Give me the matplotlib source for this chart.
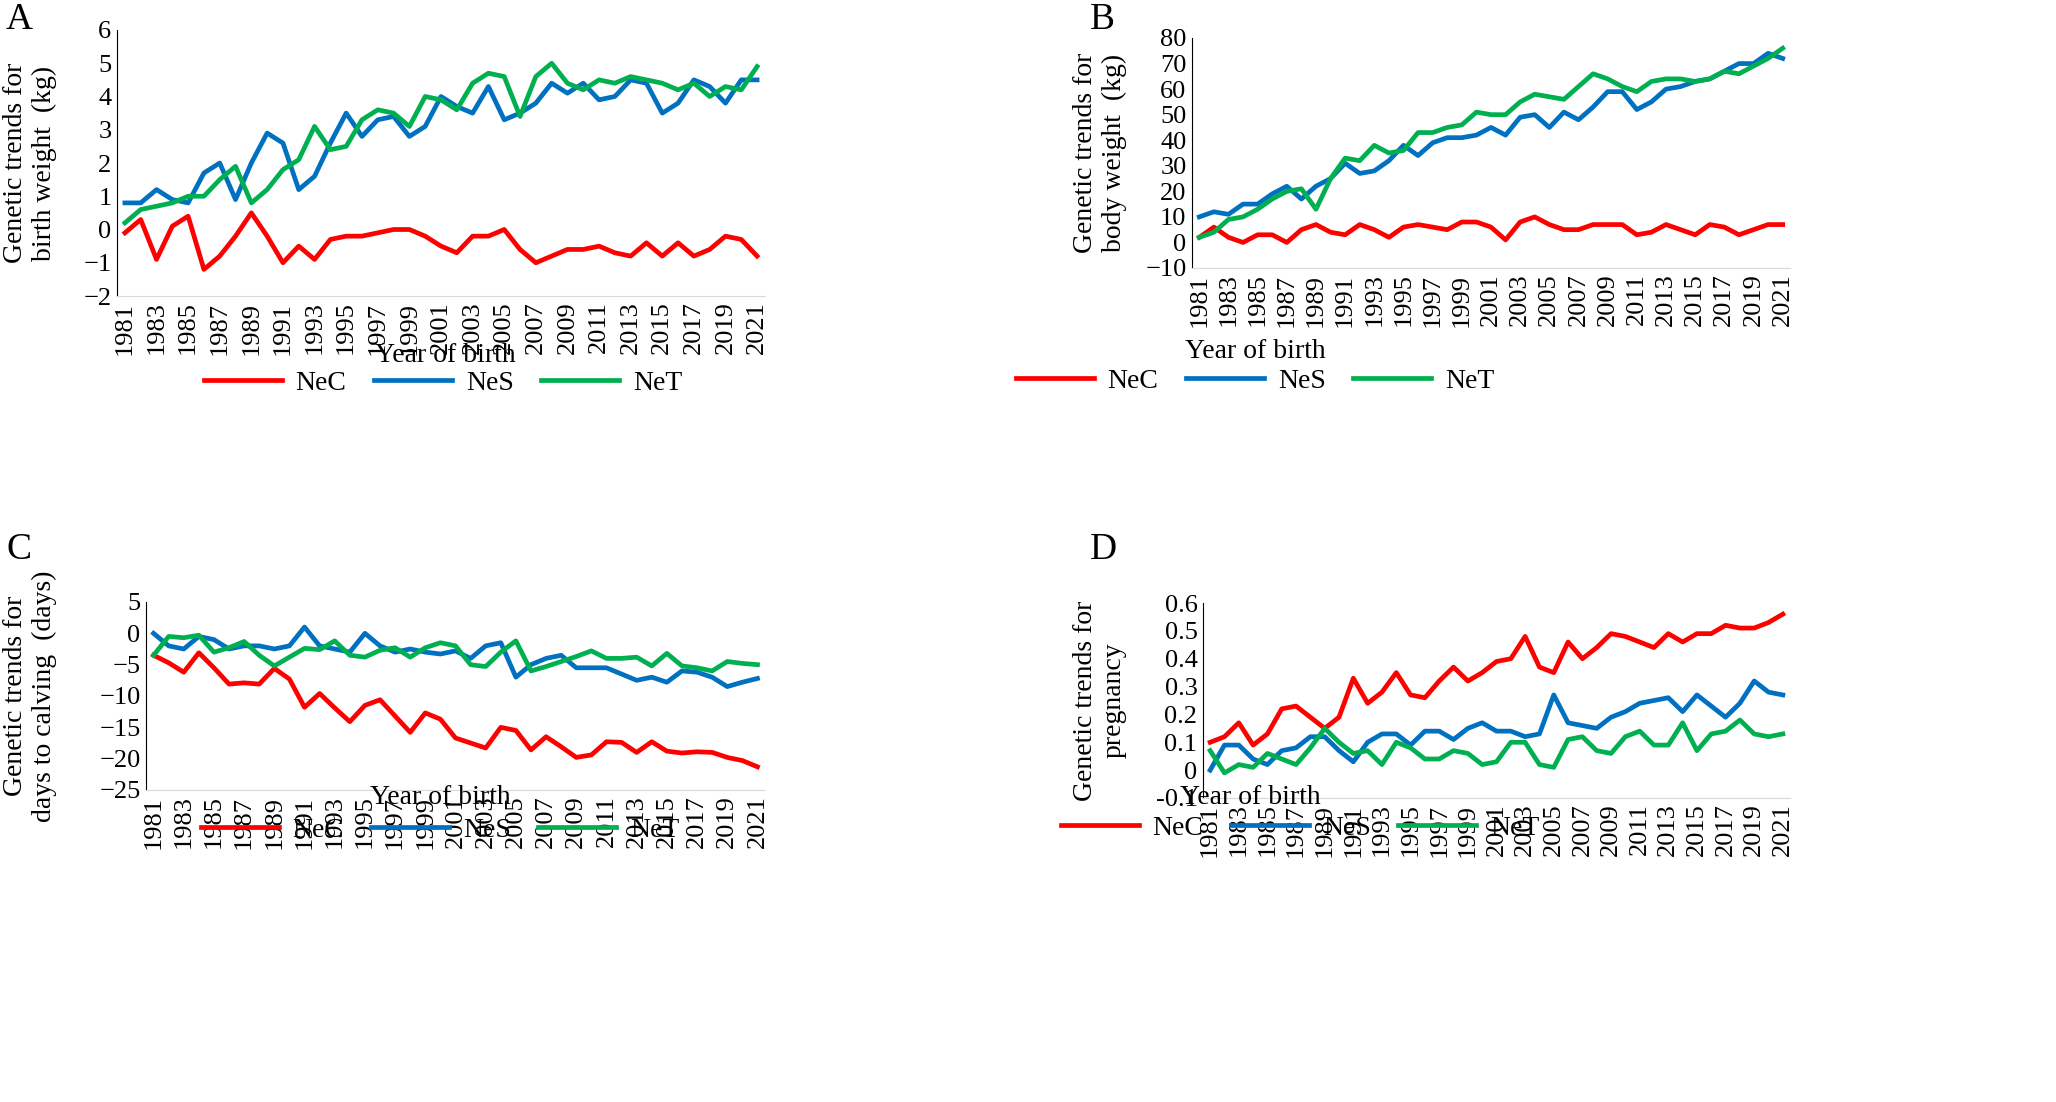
import matplotlib
matplotlib.use("Agg")
import matplotlib.pyplot as plt
from matplotlib.lines import Line2D

plt.rcParams['font.family'] = ['Liberation Serif', 'DejaVu Serif']

years = list(range(1981, 2022))
xticks = list(range(1981, 2022, 2))

A_NeC = [-0.1,0.3,-0.9,0.1,0.4,-1.2,-0.8,-0.2,0.5,-0.2,-1.0,-0.5,-0.9,-0.3,-0.2,-0.2,-0.1,0.0,0.0,-0.2,-0.5,-0.7,-0.2,-0.2,0.0,-0.6,-1.0,-0.8,-0.6,-0.6,-0.5,-0.7,-0.8,-0.4,-0.8,-0.4,-0.8,-0.6,-0.2,-0.3,-0.8]
A_NeS = [0.8,0.8,1.2,0.9,0.8,1.7,2.0,0.9,2.0,2.9,2.6,1.2,1.6,2.6,3.5,2.8,3.3,3.4,2.8,3.1,4.0,3.7,3.5,4.3,3.3,3.5,3.8,4.4,4.1,4.4,3.9,4.0,4.5,4.4,3.5,3.8,4.5,4.3,3.8,4.5,4.5]
A_NeT = [0.2,0.6,0.7,0.8,1.0,1.0,1.5,1.9,0.8,1.2,1.8,2.1,3.1,2.4,2.5,3.3,3.6,3.5,3.1,4.0,3.9,3.6,4.4,4.7,4.6,3.4,4.6,5.0,4.4,4.2,4.5,4.4,4.6,4.5,4.4,4.2,4.4,4.0,4.3,4.2,4.9]

B_NeC = [2,6,2,0,3,3,0,5,7,4,3,7,5,2,6,7,6,5,8,8,6,1,8,10,7,5,5,7,7,7,3,4,7,5,3,7,6,3,5,7,7]
B_NeS = [10,12,11,15,15,19,22,17,22,25,31,27,28,32,38,34,39,41,41,42,45,42,49,50,45,51,48,53,59,59,52,55,60,61,63,64,67,70,70,74,72]
B_NeT = [2,4,9,10,13,17,20,21,13,25,33,32,38,35,36,43,43,45,46,51,50,50,55,58,57,56,61,66,64,61,59,63,64,64,63,64,67,66,69,72,76]

C_NeC = [-3.5,-4.7,-6.2,-3.1,-5.5,-8.1,-7.9,-8.1,-5.6,-7.3,-11.8,-9.6,-11.9,-14.1,-11.5,-10.6,-13.2,-15.8,-12.7,-13.7,-16.7,-17.5,-18.3,-15,-15.5,-18.6,-16.5,-18.1,-19.8,-19.4,-17.3,-17.4,-19,-17.3,-18.8,-19.1,-18.9,-19,-19.8,-20.3,-21.3]
C_NeS = [0,-2,-2.5,-0.5,-1,-2.5,-2,-2,-2.5,-2,1,-2,-2.5,-3,0,-2,-3,-2.5,-3,-3.3,-2.8,-4,-2,-1.5,-7,-5,-4,-3.5,-5.5,-5.5,-5.5,-6.5,-7.5,-7,-7.8,-6,-6.2,-7,-8.5,-7.8,-7.2]
C_NeT = [-3.5,-0.5,-0.7,-0.3,-3,-2.3,-1.3,-3.5,-5.2,-3.8,-2.4,-2.6,-1.2,-3.5,-3.8,-2.7,-2.3,-3.8,-2.3,-1.5,-2,-5,-5.3,-3,-1.2,-6,-5.3,-4.5,-3.7,-2.8,-4,-4,-3.8,-5.2,-3.2,-5.2,-5.5,-6,-4.5,-4.8,-5]

D_NeC = [0.10,0.12,0.17,0.09,0.13,0.22,0.23,0.19,0.15,0.19,0.33,0.24,0.28,0.35,0.27,0.26,0.32,0.37,0.32,0.35,0.39,0.40,0.48,0.37,0.35,0.46,0.40,0.44,0.49,0.48,0.46,0.44,0.49,0.46,0.49,0.49,0.52,0.51,0.51,0.53,0.56]
D_NeS = [0.0,0.09,0.09,0.04,0.02,0.07,0.08,0.12,0.12,0.07,0.03,0.10,0.13,0.13,0.09,0.14,0.14,0.11,0.15,0.17,0.14,0.14,0.12,0.13,0.27,0.17,0.16,0.15,0.19,0.21,0.24,0.25,0.26,0.21,0.27,0.23,0.19,0.24,0.32,0.28,0.27]
D_NeT = [0.07,-0.01,0.02,0.01,0.06,0.04,0.02,0.08,0.15,0.10,0.06,0.07,0.02,0.10,0.08,0.04,0.04,0.07,0.06,0.02,0.03,0.10,0.10,0.02,0.01,0.11,0.12,0.07,0.06,0.12,0.14,0.09,0.09,0.17,0.07,0.13,0.14,0.18,0.13,0.12,0.13]

colors = {'NeC': '#ff0000', 'NeS': '#0070c0', 'NeT': '#00b050'}
W, H = 2056, 1102
fig = plt.figure(figsize=(20.56, 11.02), dpi=100)

# (letter, axes box px, series, ylim, yticks, ylabel, letter pos, ylabel x, xlabel pos, legend pos)
panels = [
    ('A', (117, 765, 30, 296), (A_NeC, A_NeS, A_NeT), (-2, 6), list(range(-2, 7)),
     'Genetic trends for\nbirth weight  (kg)', (6, 20), 30, (445, 355), (443, 383)),
    ('B', (1192, 1790, 38, 268), (B_NeC, B_NeS, B_NeT), (-10, 80), list(range(-10, 81, 10)),
     'Genetic trends for\nbody weight  (kg)', (1090, 20), 1100, (1255, 352), (1255, 381)),
    ('C', (146, 765, 602, 790), (C_NeC, C_NeS, C_NeT), (-25, 5), list(range(-25, 6, 5)),
     'Genetic trends for\ndays to calving  (days)', (6, 550), 30, (440, 797), (440, 830)),
    ('D', (1203, 1790, 603, 798), (D_NeC, D_NeS, D_NeT), (-0.1, 0.6), [-0.1,0,0.1,0.2,0.3,0.4,0.5,0.6],
     'Genetic trends for\npregnancy', (1090, 550), 1100, (1250, 797), (1300, 828)),
]

for letter, (l, r, t, b), series, ylim, yt, ylab, lpos, ylx, xlp, lgp in panels:
    ax = fig.add_axes([l / W, 1 - b / H, (r - l) / W, (b - t) / H])
    for name, vals in zip(['NeC', 'NeS', 'NeT'], series):
        ax.plot(years, vals, color=colors[name], lw=3.4, label=name)
    ax.set_ylim(*ylim)
    ax.set_yticks(yt)
    if letter == 'D':
        ax.set_yticklabels([f'{v:g}' for v in yt])
    ax.set_xlim(1980.5, 2021.5)
    ax.set_xticks(xticks)
    ax.set_xticklabels([str(x) for x in xticks], rotation=90)
    ax.tick_params(labelsize=19, length=0, pad=4)
    for s in ['top', 'right']:
        ax.spines[s].set_visible(False)
    ax.spines['bottom'].set_color('#d9d9d9')
    ax.spines['left'].set_color('#000000')
    fig.text(xlp[0] / W, 1 - xlp[1] / H, 'Year of birth', fontsize=20, ha='center', va='center')
    fig.text(ylx / W, 1 - ((t + b) / 2) / H, ylab, fontsize=20, rotation=90,
             ha='center', va='center', multialignment='center')
    handles = [Line2D([], [], color=colors[n], lw=3.4) for n in ['NeC', 'NeS', 'NeT']]
    fig.legend(handles, ['NeC', 'NeS', 'NeT'], loc='center',
               bbox_to_anchor=(lgp[0] / W, 1 - lgp[1] / H), ncol=3, frameon=False,
               fontsize=20, handlelength=2.8, columnspacing=1.0, handletextpad=0.5)
    fig.text(lpos[0] / W, 1 - lpos[1] / H, letter, fontsize=27, va='center', ha='left')

fig.savefig('out.png', dpi=100)
